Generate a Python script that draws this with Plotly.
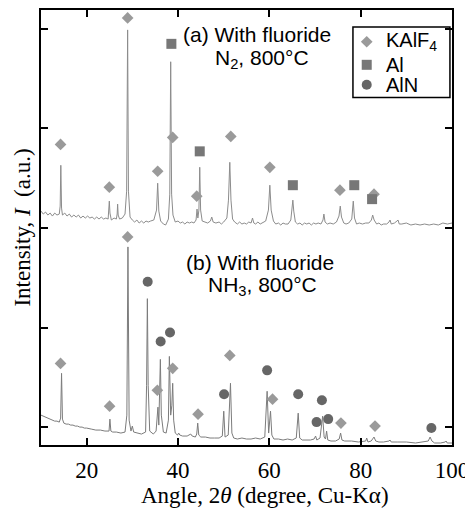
import plotly.graph_objects as go

# XRD patterns (angle 2theta in degree, intensity in a.u.)
# (a) with fluoride, N2, 800C  -- stacked above (b)
a_angle = [10.0, 10.5, 11.0, 11.5, 12.0, 12.5, 13.0, 13.5, 14.0, 14.2, 14.34, 14.5, 14.7, 15.2, 15.7,
           16.2, 16.7, 17.2, 17.7, 18.2, 18.7, 19.2, 19.7, 20.2, 20.7, 21.2, 21.7, 22.2, 22.7, 23.2,
           23.7, 24.2, 24.7, 24.85, 24.96, 25.1, 25.4, 26.0, 26.5, 26.68, 26.78, 26.9, 27.2, 27.8, 28.4,
           28.75, 28.97, 29.15, 29.5, 30.0, 30.5, 31.0, 31.5, 32.0, 32.5, 33.0, 33.5, 34.0, 34.7, 35.3,
           35.55, 35.8, 36.2, 36.8, 37.3, 37.9, 38.2, 38.4, 38.6, 38.9, 39.4, 40.0, 40.5, 41.0, 41.5,
           42.0, 42.5, 43.0, 43.5, 43.95, 44.17, 44.35, 44.58, 44.76, 44.95, 45.3, 46.0, 46.5, 47.1, 47.39,
           47.7, 48.3, 49.0, 49.5, 50.0, 50.7, 51.05, 51.34, 51.6, 51.95, 52.4, 53.0, 53.5, 54.0, 54.5,
           55.0, 55.5, 56.0, 56.32, 56.6, 57.0, 57.5, 58.0, 58.5, 59.2, 59.8, 60.11, 60.4, 60.9, 61.4,
           62.0, 62.5, 63.0, 63.5, 64.1, 64.7, 64.98, 65.15, 65.35, 65.7, 66.2, 66.7, 67.2, 67.7, 68.2,
           68.7, 69.2, 69.7, 70.2, 70.7, 71.3, 71.75, 71.95, 72.2, 72.7, 73.3, 74.0, 74.7, 75.25, 75.53,
           75.8, 76.3, 76.8, 77.4, 78.05, 78.38, 78.65, 79.1, 79.7, 80.4, 81.1, 81.8, 82.35, 82.63, 82.95,
           83.5, 84.0, 84.5, 85.0, 85.7, 86.2, 86.43, 86.7, 87.4, 87.95, 88.18, 88.45, 89.0, 90.0, 91.0,
           92.0, 93.0, 94.0, 95.0, 96.0, 97.0, 98.0, 99.0, 100.0]
a_int = [235, 232, 234, 231, 233, 230, 233, 231, 232, 240, 281, 238, 231, 233, 230,
         232, 229, 231, 229, 231, 228, 230, 228, 230, 228, 229, 227, 229, 227, 229,
         227, 228, 227, 234, 245, 233, 226, 228, 227, 232, 242, 231, 227, 228, 232,
         255, 417, 255, 229, 226, 224, 226, 223, 225, 223, 225, 224, 225, 226, 236,
         263, 235, 225, 222, 221, 227, 252, 385, 252, 231, 224, 225, 223, 224, 222,
         224, 223, 224, 223, 226, 237, 228, 236, 279, 236, 225, 224, 223, 225, 229,
         224, 223, 224, 222, 224, 228, 246, 284, 246, 227, 224, 222, 224, 222, 223,
         222, 224, 223, 228, 223, 222, 224, 222, 223, 225, 236, 261, 236, 225, 222,
         223, 221, 223, 222, 222, 226, 238, 246, 235, 224, 222, 223, 221, 223, 222,
         223, 221, 223, 222, 223, 222, 226, 232, 224, 222, 223, 222, 224, 230, 240,
         229, 223, 222, 223, 227, 245, 228, 222, 223, 222, 223, 223, 226, 231, 226,
         222, 223, 221, 222, 222, 224, 226, 222, 223, 225, 226, 222, 222, 223, 221,
         222, 221, 222, 221, 222, 221, 223, 222, 223]

# (b) with fluoride, NH3, 800C
b_angle = [10.0, 10.5, 11.0, 11.5, 12.0, 12.5, 13.0, 13.5, 14.0, 14.3, 14.5, 14.7, 15.0, 15.5, 16.0,
           16.5, 17.0, 17.5, 18.0, 18.5, 19.0, 19.5, 20.0, 21.0, 22.0, 23.0, 24.0, 24.9, 25.09, 25.3,
           25.7, 26.5, 27.5, 28.4, 28.8, 29.04, 29.3, 29.7, 30.0, 30.3, 31.0, 32.0, 32.9, 33.12, 33.29,
           33.47, 33.8, 34.6, 35.2, 35.61, 35.8, 35.95, 36.14, 36.35, 36.8, 37.4, 37.9, 38.11, 38.4, 38.65,
           38.84, 39.05, 39.4, 39.9, 40.15, 40.4, 41.0, 42.0, 42.5, 42.79, 43.1, 43.8, 44.1, 44.32, 44.55,
           45.0, 46.0, 47.0, 48.0, 49.0, 49.7, 50.02, 50.3, 51.0, 51.49, 51.8, 52.2, 53.0, 54.0, 55.0,
           56.0, 57.0, 58.0, 59.0, 59.52, 59.85, 60.26, 60.55, 61.0, 62.0, 63.0, 64.0, 65.0, 65.9, 66.32,
           66.65, 67.2, 68.0, 69.0, 69.8, 70.13, 70.4, 71.1, 71.67, 72.0, 72.3, 72.54, 72.8, 73.5, 74.5,
           75.3, 75.61, 75.9, 76.5, 78.0, 79.5, 80.5, 81.1, 81.32, 81.6, 82.3, 82.92, 83.3, 84.0, 85.0,
           86.2, 86.43, 86.7, 88.0, 90.0, 92.0, 93.5, 94.8, 95.2, 95.6, 96.2, 97.5, 98.5, 98.71, 98.95,
           100.0]
b_int = [30, 29, 28, 27, 26, 25, 24, 24, 23, 27, 72, 26, 22, 21, 21,
         20, 20, 19, 19, 18, 18, 17, 17, 16, 15, 15, 14, 14, 26, 14,
         13, 13, 12, 13, 30, 199, 25, 14, 19, 13, 12, 11, 13, 60, 147,
         60, 14, 11, 14, 38, 20, 40, 86, 30, 13, 12, 25, 89, 30, 40,
         62, 25, 12, 10, 12, 10, 9, 9, 10, 11, 9, 8, 11, 22, 10,
         8, 8, 7, 7, 7, 9, 34, 8, 10, 62, 12, 7, 6, 7, 6,
         6, 7, 6, 8, 54, 12, 34, 10, 6, 6, 5, 6, 5, 7, 32,
         7, 5, 5, 5, 6, 9, 5, 7, 29, 8, 6, 14, 5, 4, 4,
         6, 12, 5, 4, 4, 3, 4, 4, 7, 3, 4, 8, 4, 3, 3,
         4, 5, 3, 3, 3, 2, 3, 4, 8, 4, 2, 2, 3, 4, 2,
         2]

# phase markers
kalf4_a_angle = [14.28, 24.96, 28.97, 35.55, 38.84, 44.1, 51.56, 60.11, 75.46, 82.92]
kalf4_a_int = [302, 259, 429, 275, 309, 250, 310, 279, 256, 252]
kalf4_b_angle = [14.28, 25.02, 28.97, 35.48, 38.84, 44.39, 51.34, 60.7, 75.68, 83.14]
kalf4_b_int = [82, 39, 209, 55, 77, 31, 90, 46, 22, 19]
al_angle = [38.55, 44.76, 65.15, 78.6, 82.5]
al_int = [403, 295, 261, 261, 247]
aln_angle = [33.36, 36.2, 38.25, 50.09, 59.52, 66.32, 70.35, 71.51, 72.89, 95.48]
aln_int = [164, 104, 113, 51, 75, 51, 23, 45, 26, 17]

phases = ['KAlF<sub>4</sub>', 'Al', 'AlN']
x_ticks = [20, 40, 60, 80, 100]
y_ticks = [18, 118, 218, 318, 418]

sans = 'Liberation Sans, Arial, sans-serif'
serif = 'Liberation Serif, Times New Roman, serif'
kalf4_style = dict(symbol='diamond', size=9, color='#9a9a9a')
al_style = dict(symbol='square', size=10, color='#777777')
aln_style = dict(symbol='circle', size=10, color='#666666')

fig = go.Figure()

fig.add_trace(go.Scatter(x=a_angle, y=a_int, mode='lines',
                         line=dict(color='#8c8c8c', width=1), showlegend=False))
fig.add_trace(go.Scatter(x=b_angle, y=b_int, mode='lines',
                         line=dict(color='#7c7c7c', width=1), showlegend=False))

fig.add_trace(go.Scatter(x=kalf4_a_angle + kalf4_b_angle, y=kalf4_a_int + kalf4_b_int,
                         mode='markers', marker=kalf4_style, showlegend=False))
fig.add_trace(go.Scatter(x=al_angle, y=al_int, mode='markers', marker=al_style,
                         showlegend=False))
fig.add_trace(go.Scatter(x=aln_angle, y=aln_int, mode='markers', marker=aln_style,
                         showlegend=False))

# legend box drawn by hand (plotly's own legend spaces rows too far apart)
leg_x0, leg_x1, leg_y0, leg_y1 = 0.759, 0.995, 0.799, 0.961
leg_rows = [0.927, 0.874, 0.828]
leg_sym_x = 0.7925
leg_txt_x = 0.835
fig.add_shape(type='rect', xref='paper', yref='paper', x0=leg_x0, x1=leg_x1, y0=leg_y0, y1=leg_y1,
              line=dict(color='black', width=1.5), fillcolor='white', layer='below')
for style, row in zip([kalf4_style, al_style, aln_style], leg_rows):
    fig.add_trace(go.Scatter(x=[leg_sym_x], y=[row], xaxis='x2', yaxis='y2', mode='markers',
                             marker=style, showlegend=False, hoverinfo='skip'))
for name, row in zip(phases, leg_rows):
    fig.add_annotation(xref='paper', yref='paper', x=leg_txt_x, y=row, text=name,
                       showarrow=False, xanchor='left', yanchor='middle',
                       font=dict(family=sans, size=20, color='black'))

# panel labels
label_font = dict(family=sans, size=21, color='black')
fig.add_annotation(x=57.4, y=412, text='(a) With fluoride', showarrow=False, font=label_font)
fig.add_annotation(x=58.3, y=388, text='N<sub>2</sub>, 800°C', showarrow=False, font=label_font)
fig.add_annotation(x=57.9, y=183, text='(b) With fluoride', showarrow=False, font=label_font)
fig.add_annotation(x=58.6, y=160, text='NH<sub>3</sub>, 800°C', showarrow=False, font=label_font)

# axis titles
fig.add_annotation(xref='paper', yref='paper', x=0.546, y=-0.117, xanchor='center',
                   yanchor='middle', text='Angle, 2<i>θ</i> (degree, Cu-Kα)', showarrow=False,
                   font=dict(family=serif, size=23, color='black'))
fig.add_annotation(xref='paper', yref='paper', x=-0.046, y=0.5, xanchor='center',
                   yanchor='middle', textangle=-90,
                   text='Intensity, <i>I</i>  (a.u.)', showarrow=False,
                   font=dict(family=serif, size=23, color='black'))

fig.update_xaxes(range=[10, 100], tickvals=x_ticks, ticks='inside', ticklen=7, tickwidth=1.5,
                 tickcolor='black', showline=True, linewidth=2, linecolor='black', mirror='ticks',
                 showgrid=False, zeroline=False, ticklabelstandoff=3,
                 tickfont=dict(family=serif, size=23, color='black'))
fig.update_yaxes(range=[0, 437], tickvals=y_ticks, showticklabels=False, ticks='inside',
                 ticklen=7, tickwidth=1.5, tickcolor='black', showline=True, linewidth=2,
                 linecolor='black', mirror='ticks', showgrid=False, zeroline=False)

# the page body adds an 8 px offset, so the figure is 8 px smaller and shifted
fig.update_layout(
    width=465, height=502,
    margin=dict(l=33, r=21, t=0, b=65),
    paper_bgcolor='white', plot_bgcolor='white',
    showlegend=False,
    xaxis2=dict(range=[0, 1], overlaying='x', visible=False, fixedrange=True),
    yaxis2=dict(range=[0, 1], overlaying='y', visible=False, fixedrange=True),
)

fig.write_html("out.html")
